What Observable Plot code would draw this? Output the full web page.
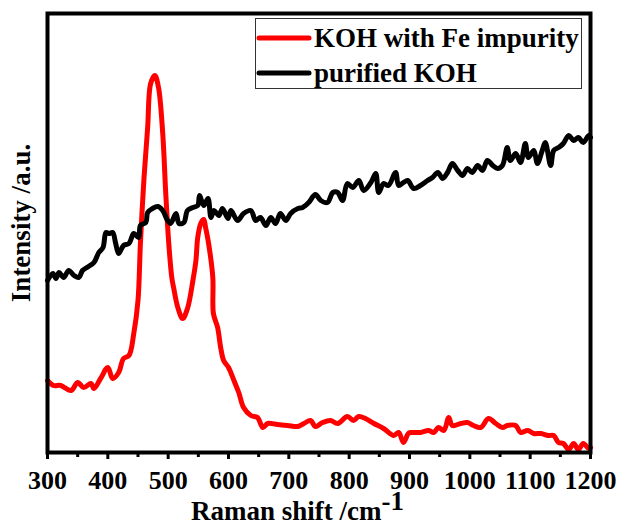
<!DOCTYPE html>
<html><head><meta charset="utf-8">
<script src="https://cdn.jsdelivr.net/npm/d3@7"></script>
<script src="https://cdn.jsdelivr.net/npm/@observablehq/plot@0.6"></script>
<style>body{margin:0;background:#fff}</style>
</head><body><div id="chart"></div>
<script>
// KOH with Fe impurity (red)
const redShift = [300,310,322,339,350,360,372,377,388,400,408,418,426,435,443,450,454,460,466,471,478,484,491,496,501,506,509,516,524,532,541,546,549,554,559,562,567,574,575,582,587,592,600,609,617,625,637,648,657,665,681,698,715,725,736,744,756,769,781,797,807,816,827,841,857,874,882,890,898,902,918,932,940,948,957,965,971,985,996,1006,1018,1031,1043,1054,1062,1076,1084,1096,1106,1118,1130,1139,1147,1155,1164,1172,1180,1188,1197,1200];
const redIntensity = [72,67,67,62,70,65,69,64,74,85,74,80,94,97,119,152,209,275,325,369,377,365,319,259,209,175,165,145,134,144,172,192,215,229,233,225,209,175,139,125,105,92,85,72,60,45,37,35,25,29,28,27,26,29,32,26,30,32,29,36,32,36,34,29,24,17,20,10,19,20,20,22,20,25,22,35,27,29,30,27,25,34,29,25,27,27,20,22,19,19,17,17,10,9,3,9,3,9,4,5];
// purified KOH (black)
const blackShift = [300,309,314,319,327,335,344,352,358,368,377,385,392,397,402,408,413,418,426,435,443,451,454,463,466,474,483,491,499,504,513,518,526,532,541,549,552,559,566,571,576,584,590,599,604,615,625,637,645,653,662,670,678,686,695,703,715,723,733,744,753,764,773,781,789,797,806,816,824,836,844,849,857,865,877,882,890,897,907,918,930,938,947,955,963,971,980,988,996,1004,1013,1021,1029,1038,1046,1054,1062,1067,1076,1084,1092,1097,1106,1112,1120,1125,1134,1139,1147,1155,1164,1172,1180,1188,1197,1200];
const blackIntensity = [172,179,174,180,175,182,177,175,182,186,190,200,205,220,219,220,209,199,207,209,219,215,227,230,240,244,246,242,232,229,239,229,230,242,245,247,257,247,254,235,242,237,244,234,242,232,239,242,232,235,227,235,229,239,232,239,244,245,250,258,252,250,260,260,252,269,265,272,262,270,279,260,269,267,280,267,270,272,264,267,272,275,280,274,280,289,282,277,284,280,287,282,292,287,284,287,305,292,299,290,309,295,302,289,302,310,287,302,305,309,317,312,315,310,317,315];
const majorTicks = [300,400,500,600,700,800,900,1000,1100,1200];
const minorTicks = [350,450,550,650,750,850,950,1050,1150];
const seriesNames = ["KOH with Fe impurity", "purified KOH"];
const seriesColors = ["#ff0000", "#000000"];

const redData = redShift.map((x, i) => ({x, y: redIntensity[i]}));
const blackData = blackShift.map((x, i) => ({x, y: blackIntensity[i]}));

const font = "'Liberation Serif', 'Times New Roman', serif";
const svg = Plot.plot({
  width: 621, height: 525,
  marginLeft: 47, marginRight: 31, marginTop: 13, marginBottom: 73,
  style: {fontFamily: font, fontWeight: "bold", fontSize: "26px", background: "#fff", color: "#000", overflow: "visible"},
  x: {domain: [300, 1200], label: null},
  y: {domain: [0, 439], axis: null},
  marks: [
    Plot.line(redData, {x: "x", y: "y", stroke: seriesColors[0], strokeWidth: 5, curve: "catmull-rom", strokeLinejoin: "round"}),
    Plot.line(blackData, {x: "x", y: "y", stroke: seriesColors[1], strokeWidth: 5, curve: "catmull-rom", strokeLinejoin: "round"}),
    Plot.axisX({ticks: majorTicks, tickSize: 7, tickPadding: 11, strokeWidth: 3, stroke: "#000", fill: "#000",
      fontSize: 26, fontWeight: "bold", fontFamily: font, tickFormat: d => String(d), label: null}),
    Plot.axisX({ticks: minorTicks, tickSize: 5, strokeWidth: 3, stroke: "#000", tickFormat: () => "", label: null}),
    Plot.frame({stroke: "#000", strokeWidth: 4})
  ]
});
document.getElementById("chart").appendChild(svg);

const s = d3.select(svg);
// axis titles
const xt = s.append("text").attr("x", 191).attr("y", 520).attr("text-anchor", "start")
  .attr("font-size", 27).attr("font-weight", "bold").attr("font-family", font).attr("fill", "#000");
xt.append("tspan").text("Raman shift /cm");
xt.append("tspan").attr("dy", -10).text("-1");
s.append("text").attr("transform", "translate(30,223) rotate(-90)").attr("text-anchor", "middle")
  .attr("font-size", 27).attr("font-weight", "bold").attr("font-family", font).attr("fill", "#000")
  .text("Intensity /a.u.");
// legend
const lg = s.append("g");
lg.append("rect").attr("x", 255.5).attr("y", 18.5).attr("width", 326).attr("height", 70)
  .attr("fill", "#fff").attr("stroke", "#333").attr("stroke-width", 1);
seriesNames.forEach((name, i) => {
  const cy = 38 + i * 35;
  lg.append("line").attr("x1", 259).attr("x2", 309).attr("y1", cy).attr("y2", cy)
    .attr("stroke", seriesColors[i]).attr("stroke-width", 5).attr("stroke-linecap", "round");
  lg.append("text").attr("x", 314).attr("y", cy + 9).attr("text-anchor", "start")
    .attr("font-size", 27).attr("font-weight", "bold").attr("font-family", font).attr("fill", "#000")
    .text(name);
});
</script>
</body></html>
